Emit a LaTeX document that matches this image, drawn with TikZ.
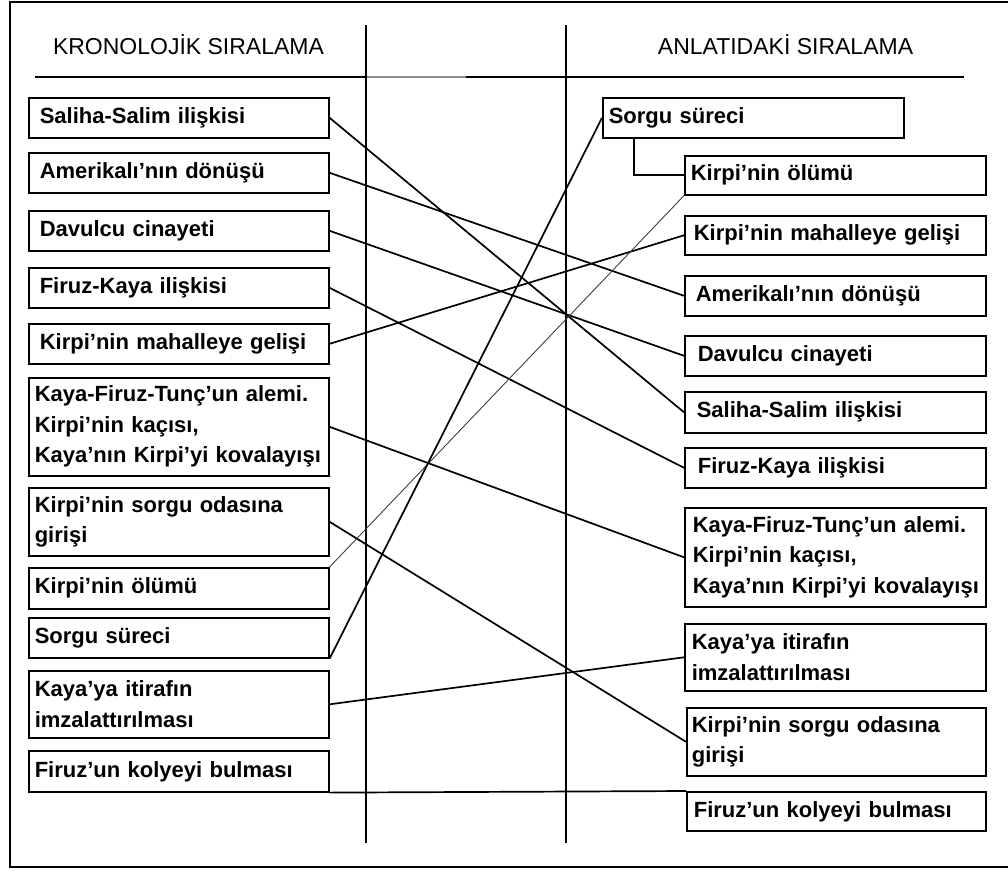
\documentclass[tikz,border=0pt]{standalone}
\usepackage{fontspec}
\setmainfont{Liberation Sans}
\tikzset{
  ev/.style={draw=black, line width=1.6pt, anchor=north west, inner ysep=0pt,
    align=left, font=\bfseries\fontsize{22}{30.5}\selectfont},
  conn/.style={draw=black, line width=1.7pt},
  thinconn/.style={draw=black!75, line width=0.9pt},
  rule/.style={draw=black, line width=1.4pt},
  head/.style={font=\fontsize{23}{28}\selectfont}
}
\newcommand{\tl}[1]{\mbox{#1}}
\begin{document}
\begin{tikzpicture}[x=1pt,y=-1pt]
\useasboundingbox (0,0) rectangle (1008,870);
% outer frame
\draw[line width=1.6pt] (10,2) -- (1015,2) -- (1015,867) -- (10,867) -- cycle;
% headers
\node[head] (h1) at (188.5,45) {KRONOLOJİK SIRALAMA};
\node[head] (h2) at (785.5,45) {ANLATIDAKİ SIRALAMA};
% rules
\draw[rule] (35,77) -- (366,77);
\draw[rule, draw=black!45] (366,77) -- (466,77);
\draw[rule] (466,77) -- (964,77);
\draw[line width=1.2pt] (366,25) -- (366,843);
\draw[line width=1.2pt] (566,25) -- (566,843);
% left boxes (width 300)
\node[ev, minimum height=40pt, inner xsep=11pt, text width=278pt] (l1) at (28,97) {\tl{Saliha-Salim ilişkisi}};
\node[ev, minimum height=40pt, inner xsep=11pt, text width=278pt] (l2) at (28,152) {\tl{Amerikalı'nın dönüşü}};
\node[ev, minimum height=40pt, inner xsep=11pt, text width=278pt] (l3) at (28,210) {\tl{Davulcu cinayeti}};
\node[ev, minimum height=40pt, inner xsep=11pt, text width=278pt] (l4) at (28,267) {\tl{Firuz-Kaya ilişkisi}};
\node[ev, minimum height=40pt, inner xsep=11pt, text width=278pt] (l5) at (28,323) {\tl{Kirpi'nin mahalleye gelişi}};
\node[ev, minimum height=98pt, inner xsep=6pt, text width=288pt] (l6) at (28,377) {\tl{Kaya-Firuz-Tunç'un alemi.}\\\tl{Kirpi'nin kaçısı,}\\\tl{Kaya'nın Kirpi'yi kovalayışı}};
\node[ev, minimum height=68pt, inner xsep=6pt, text width=288pt] (l7) at (28,487) {\tl{Kirpi'nin sorgu odasına}\\\tl{girişi}};
\node[ev, minimum height=41pt, inner xsep=6pt, text width=288pt] (l8) at (28,567) {\tl{Kirpi'nin ölümü}};
\node[ev, minimum height=40pt, inner xsep=6pt, text width=288pt] (l9) at (28,617) {\tl{Sorgu süreci}};
\node[ev, minimum height=67pt, inner xsep=6pt, text width=288pt] (l10) at (28,670) {\tl{Kaya'ya itirafın}\\\tl{imzalattırılması}};
\node[ev, minimum height=41pt, inner xsep=6pt, text width=288pt] (l11) at (28,750) {\tl{Firuz'un kolyeyi bulması}};
% right boxes (width 301)
\node[ev, minimum height=40pt, inner xsep=6pt, text width=289pt] (r1) at (602,97) {\tl{Sorgu süreci}};
\node[ev, minimum height=39pt, inner xsep=6pt, text width=289pt] (r2) at (684,155) {\tl{Kirpi'nin ölümü}};
\node[ev, minimum height=39pt, inner xsep=9pt, text width=283pt] (r3) at (684,215) {\tl{Kirpi'nin mahalleye gelişi}};
\node[ev, minimum height=40pt, inner xsep=11pt, text width=279pt] (r4) at (684,275) {\tl{Amerikalı'nın dönüşü}};
\node[ev, minimum height=40pt, inner xsep=13pt, text width=275pt] (r5) at (684,335) {\tl{Davulcu cinayeti}};
\node[ev, minimum height=41pt, inner xsep=12pt, text width=277pt] (r6) at (684,391) {\tl{Saliha-Salim ilişkisi}};
\node[ev, minimum height=40pt, inner xsep=13pt, text width=275pt] (r7) at (684,447) {\tl{Firuz-Kaya ilişkisi}};
\node[ev, minimum height=99pt, inner xsep=8pt, text width=285pt] (r8) at (684,507) {\tl{Kaya-Firuz-Tunç'un alemi.}\\\tl{Kirpi'nin kaçısı,}\\\tl{Kaya'nın Kirpi'yi kovalayışı}};
\node[ev, minimum height=67pt, inner xsep=7pt, text width=287pt] (r9) at (684,623) {\tl{Kaya'ya itirafın}\\\tl{imzalattırılması}};
\node[ev, minimum height=68pt, inner xsep=5pt, text width=289pt] (r10) at (686,707) {\tl{Kirpi'nin sorgu odasına}\\\tl{girişi}};
\node[ev, minimum height=39pt, inner xsep=7pt, text width=285pt] (r11) at (686,791) {\tl{Firuz'un kolyeyi bulması}};
% connectors
\draw[conn] (l1.east) -- (r6.west);
\draw[conn] (l2.east) -- (r4.west);
\draw[conn] (l3.east) -- (r5.west);
\draw[conn] (l4.east) -- (r7.west);
\draw[conn] (l5.east) -- (r3.west);
\draw[conn] (l6.east) -- (r8.west);
\draw[conn] (l7.east) -- (r10.west);
\draw[thinconn] (l8.north east) -- (r2.south west);
\draw[conn] (l9.south east) -- (r1.west);
\draw[conn] (l10.east) -- (r9.west);
\draw[conn] (l11.south east) -- (r11.north west);
\draw[conn] ([xshift=32pt]r1.south west) |- (r2.west);
\end{tikzpicture}
\end{document}
